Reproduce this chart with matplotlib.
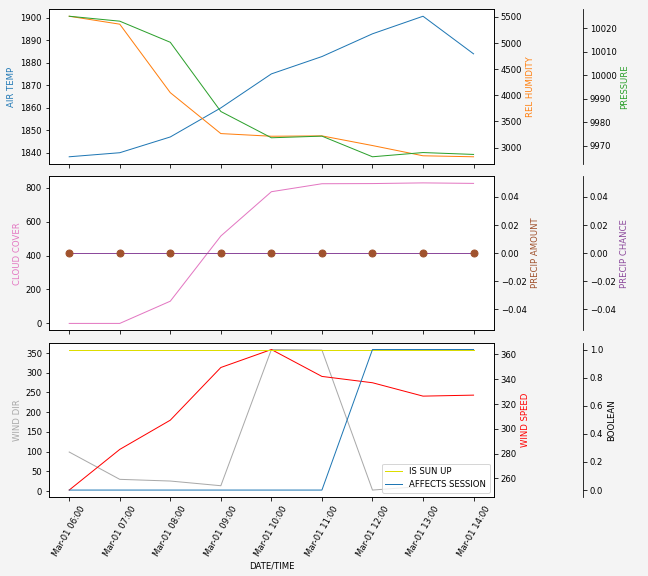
import matplotlib
matplotlib.use("Agg")
import matplotlib.pyplot as plt
import matplotlib.dates as mdates
import pandas as pd

# hourly observations
times = pd.date_range("2023-03-01 06:00", periods=9, freq="h")

air_temp = [1838.2, 1840.0, 1847.0, 1859.9, 1875.0, 1882.7, 1892.8, 1900.6, 1883.9]
rel_humidity = [5513, 5361, 4050, 3267, 3216, 3223, 3038, 2842, 2823]
pressure = [10025.1, 10023.0, 10014.0, 9984.5, 9973.3, 9974.0, 9965.2, 9967.0, 9966.2]

cloud_cover = [0, 0, 131, 515, 776, 823, 824, 828, 825]
precip_amount = [0, 0, 0, 0, 0, 0, 0, 0, 0]
precip_chance = [0, 0, 0, 0, 0, 0, 0, 0, 0]

wind_dir = [99, 29.7, 25.4, 13.5, 359, 357.6, 2.5, 12, 15]
wind_speed = [250.6, 283.4, 307.0, 349.5, 364.0, 342.3, 337.2, 326.4, 327.2]
is_sun_up = [1, 1, 1, 1, 1, 1, 1, 1, 1]
affects_session = [0, 0, 0, 0, 0, 0, 1, 1, 1]

plt.rcParams["font.family"] = "DejaVu Sans"
plt.rcParams["font.size"] = 8.5

LW = 1.0


def third_axis(ax):
    """extra y axis with its spine pushed out to the right"""
    par = ax.twinx()
    par.spines["right"].set_position(("axes", 1.2))
    par.set_frame_on(True)
    par.patch.set_visible(False)
    for sp in par.spines.values():
        sp.set_visible(False)
    par.spines["right"].set_visible(True)
    return par


fig, axes = plt.subplots(3, 1, sharex=True, figsize=(9, 8), dpi=72)
fig.patch.set_facecolor("#f4f4f4")
fig.subplots_adjust(left=0.0756, right=0.762, top=0.984, bottom=0.137, hspace=0.078)

# --- temperature / humidity / pressure
ax = axes[0]
ax.plot(times, air_temp, color="tab:blue", lw=LW)
ax.set_ylabel("AIR TEMP", color="tab:blue")
ax_h = ax.twinx()
ax_h.plot(times, rel_humidity, color="tab:orange", lw=LW)
ax_h.set_ylabel("REL HUMIDITY", color="tab:orange")
ax_p = third_axis(ax)
ax_p.plot(times, pressure, color="tab:green", lw=LW)
ax_p.set_ylabel("PRESSURE", color="tab:green")

# --- clouds / precipitation
ax = axes[1]
ax.plot(times, cloud_cover, color="tab:pink", lw=LW)
ax.set_ylabel("CLOUD COVER", color="tab:pink")
ax_pa = ax.twinx()
ax_pc = third_axis(ax)
ax_pc.plot(times, precip_chance, color="#8c4a9c", lw=LW)
ax_pc.set_ylabel("PRECIP CHANCE", color="#8c4a9c")
ax_pa.plot(times, precip_amount, "o", color="sienna", ms=7)
ax_pa.set_ylabel("PRECIP AMOUNT", color="sienna")
ax_pa.set_zorder(ax_pc.get_zorder() + 1)

# --- wind / flags
ax = axes[2]
ax.plot(times, wind_dir, color="darkgray", lw=LW)
ax.set_ylabel("WIND DIR", color="darkgray")
ax_ws = ax.twinx()
ax_ws.plot(times, wind_speed, color="red", lw=LW)
ax_ws.set_ylabel("WIND SPEED", color="red")
ax_b = third_axis(ax)
ax_b.plot(times, is_sun_up, color="#dddd00", lw=LW, label="IS SUN UP")
ax_b.plot(times, affects_session, color="tab:blue", lw=LW, label="AFFECTS SESSION")
ax_b.set_ylabel("BOOLEAN")
ax_b.legend(loc="lower right")

ax.set_xlabel("DATE/TIME")
ax.xaxis.set_major_locator(mdates.HourLocator())
ax.xaxis.set_major_formatter(mdates.DateFormatter("%b-%d %H:%M"))
ax.tick_params(axis="x", labelrotation=60)

fig.savefig("out.png", dpi=72, facecolor=fig.get_facecolor())
